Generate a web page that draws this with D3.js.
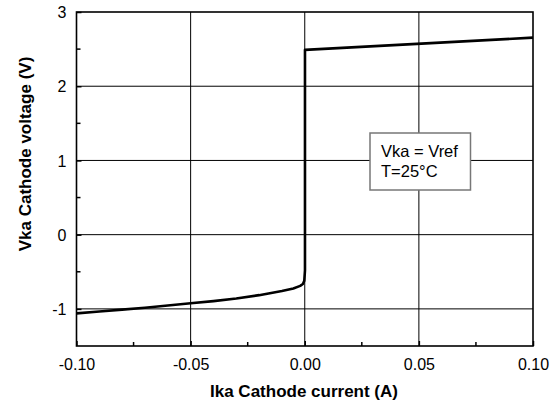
<!DOCTYPE html>
<html><head><meta charset="utf-8">
<script src="https://cdn.jsdelivr.net/npm/d3@7"></script>
<style>body{margin:0;background:#fff}svg{display:block}text{font-family:"Liberation Sans",Arial,sans-serif}</style>
</head><body><svg id="c" width="558" height="406"></svg>
<script>
const xTicks = [-0.10, -0.05, 0.00, 0.05, 0.10];
const xTickLabels = ["-0.10", "-0.05", "0.00", "0.05", "0.10"];
const yTicks = [-1, 0, 1, 2, 3];
const yTickLabels = ["-1", "0", "1", "2", "3"];
const xMinor = [-0.075, -0.025, 0.025, 0.075];
const yMinor = [-0.5, 0.5, 1.5, 2.5];
const currentA = [-0.10, -0.09, -0.08, -0.07, -0.06, -0.05, -0.04, -0.03, -0.02, -0.01, -0.005, -0.002, -0.0008, -0.0002, 0.0001, 0.0001, 0.10];
const voltageV = [-1.06, -1.035, -1.01, -0.985, -0.955, -0.925, -0.895, -0.86, -0.815, -0.76, -0.725, -0.69, -0.665, -0.62, -0.48, 2.49, 2.655];
const legendLines = ["Vka = Vref", "T=25°C"];

const svg = d3.select("#c");
const L = 76.5, R = 533, T = 12, B = 346;
const x = d3.scaleLinear().domain([-0.10, 0.10]).range([L, R]);
const y = d3.scaleLinear().domain([-1.5, 3]).range([B, T]);

// grid
svg.append("g").selectAll("line").data(xTicks.slice(1, -1)).join("line")
  .attr("x1", d => x(d)).attr("x2", d => x(d)).attr("y1", T).attr("y2", B)
  .attr("stroke", "#000").attr("stroke-width", 1);
svg.append("g").selectAll("line").data(yTicks.filter(d => d > -1.5 && d < 3)).join("line")
  .attr("y1", d => y(d)).attr("y2", d => y(d)).attr("x1", L).attr("x2", R)
  .attr("stroke", "#000").attr("stroke-width", 1);

// axes with inward ticks
const xAxis = d3.axisBottom(x).tickValues(xTicks).tickFormat((d, i) => xTickLabels[i]).tickSizeInner(-5).tickSizeOuter(0).tickPadding(13);
const gx = svg.append("g").attr("transform", `translate(0,${B})`).call(xAxis);
const yAxis = d3.axisLeft(y).tickValues(yTicks).tickFormat((d, i) => yTickLabels[i]).tickSizeInner(-5).tickSizeOuter(0).tickPadding(10);
const gy = svg.append("g").attr("transform", `translate(${L},0)`).call(yAxis);
[gx, gy].forEach(g => {
  g.select(".domain").remove();
  g.selectAll("line").attr("stroke", "#000").attr("stroke-width", 1.5);
  g.selectAll("text").attr("font-size", 16).attr("fill", "#000").attr("font-family", '"Liberation Sans",Arial,sans-serif');
});
gy.selectAll("text").attr("dy", "0.36em");
svg.append("g").selectAll("line").data(xMinor).join("line")
  .attr("x1", d => x(d)).attr("x2", d => x(d)).attr("y1", B).attr("y2", B - 4)
  .attr("stroke", "#000").attr("stroke-width", 1.5);
svg.append("g").selectAll("line").data(yMinor).join("line")
  .attr("y1", d => y(d)).attr("y2", d => y(d)).attr("x1", L).attr("x2", L + 4)
  .attr("stroke", "#000").attr("stroke-width", 1.5);

// frame
svg.append("rect").attr("x", L).attr("y", T).attr("width", R - L).attr("height", B - T)
  .attr("fill", "none").attr("stroke", "#000").attr("stroke-width", 1.6);

// curve
const pts = currentA.map((c, i) => [c, voltageV[i]]);
svg.append("path").datum(pts)
  .attr("d", d3.line().x(d => x(d[0])).y(d => y(d[1])).curve(d3.curveLinear))
  .attr("fill", "none").attr("stroke", "#000").attr("stroke-width", 2.6).attr("stroke-linejoin", "round");

// legend
const lg = svg.append("g");
lg.append("rect").attr("x", 370).attr("y", 133).attr("width", 100.5).attr("height", 57)
  .attr("fill", "#fff").attr("stroke", "#777").attr("stroke-width", 1.5);
lg.selectAll("text").data(legendLines).join("text")
  .attr("x", 381).attr("y", (d, i) => 156.5 + i * 20).attr("font-size", 16.5).attr("fill", "#000").text(d => d);

// axis titles
svg.append("text").attr("x", 304).attr("y", 397).attr("text-anchor", "middle")
  .attr("font-size", 17).attr("font-weight", "bold").text("Ika Cathode current (A)");
svg.append("text").attr("transform", "translate(31,154) rotate(-90)").attr("text-anchor", "middle")
  .attr("font-size", 17).attr("font-weight", "bold").text("Vka Cathode voltage (V)");
</script></body></html>
